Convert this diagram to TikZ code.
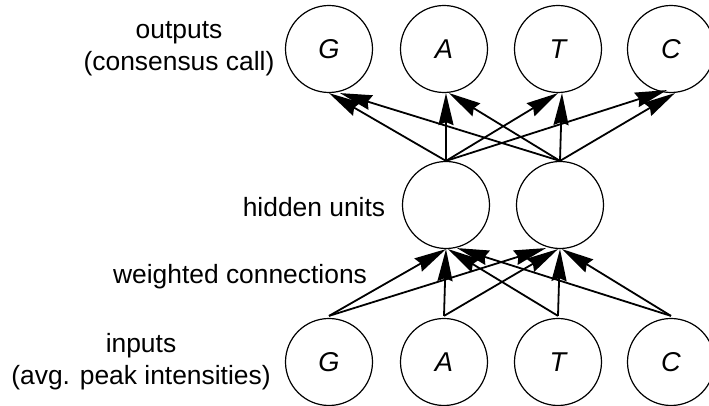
\documentclass[tikz,border=0pt]{standalone}
\usepackage{fontspec}
\setmainfont{Liberation Sans}
\usetikzlibrary{arrows.meta}
\begin{document}
\begin{tikzpicture}[x=0.5pt,y=-0.5pt,
  unit/.style={circle,draw,line width=0.6pt,minimum size=43.5pt,inner sep=0pt,font=\fontsize{13.6}{16}\selectfont\itshape},
  lbl/.style={align=center,font=\fontsize{13.2}{16}\selectfont},
  conn/.style={line width=0.9pt,-{Stealth[length=16pt,width=7.5pt,inset=1.5pt]}}]
\useasboundingbox (0,0) rectangle (709,406);
% outputs
\node[unit] (oG) at (329,49) {G};
\node[unit] (oA) at (444,49) {A};
\node[unit] (oT) at (558,49) {T};
\node[unit] (oC) at (671,49) {C};
% hidden
\node[unit] (h1) at (446,205) {};
\node[unit] (h2) at (560,205) {};
% inputs
\node[unit] (iG) at (329,362) {G};
\node[unit] (iA) at (444,362) {A};
\node[unit] (iT) at (558,362) {T};
\node[unit] (iC) at (671,362) {C};
% labels
\node[lbl] (lout) at (179,49) {outputs\\(consensus call)};
\node[lbl] (lhid) at (314,207) {hidden units};
\node[lbl] (lw) at (240,277) {weighted connections};
\node[lbl] (lin) at (141,362) {inputs\\(avg. peak intensities)};
% hidden -> outputs
\draw[conn] (h1.north) -- (oG.south);
\draw[conn] (h2.north) -- ([xshift=5.5pt]oG.south);
\draw[conn] (h1.north) -- ([xshift=1pt]oA.south);
\draw[conn] (h2.north) -- ([xshift=2.5pt]oA.south);
\draw[conn] (h1.north) -- (oT.south);
\draw[conn] (h2.north) -- ([xshift=2pt]oT.south);
\draw[conn] (h1.north) -- ([xshift=-2pt,yshift=1.5pt]oC.south);
\draw[conn] (h2.north) -- ([xshift=2pt]oC.south);
% inputs -> hidden
\draw[conn] ([yshift=1pt]iG.north) -- (h1.south);
\draw[conn] ([yshift=1pt]iA.north) -- (h1.south);
\draw[conn] ([yshift=1pt]iT.north) -- ([xshift=1pt]h1.south);
\draw[conn] ([yshift=1pt]iC.north) -- ([xshift=5.5pt,yshift=0.5pt]h1.south);
\draw[conn] ([yshift=1pt]iG.north) -- ([xshift=-7pt,yshift=0.5pt]h2.south);
\draw[conn] ([yshift=1pt]iA.north) -- ([xshift=-1pt]h2.south);
\draw[conn] ([yshift=1pt]iT.north) -- (h2.south);
\draw[conn] ([yshift=1pt]iC.north) -- ([xshift=1pt]h2.south);
\end{tikzpicture}
\end{document}
